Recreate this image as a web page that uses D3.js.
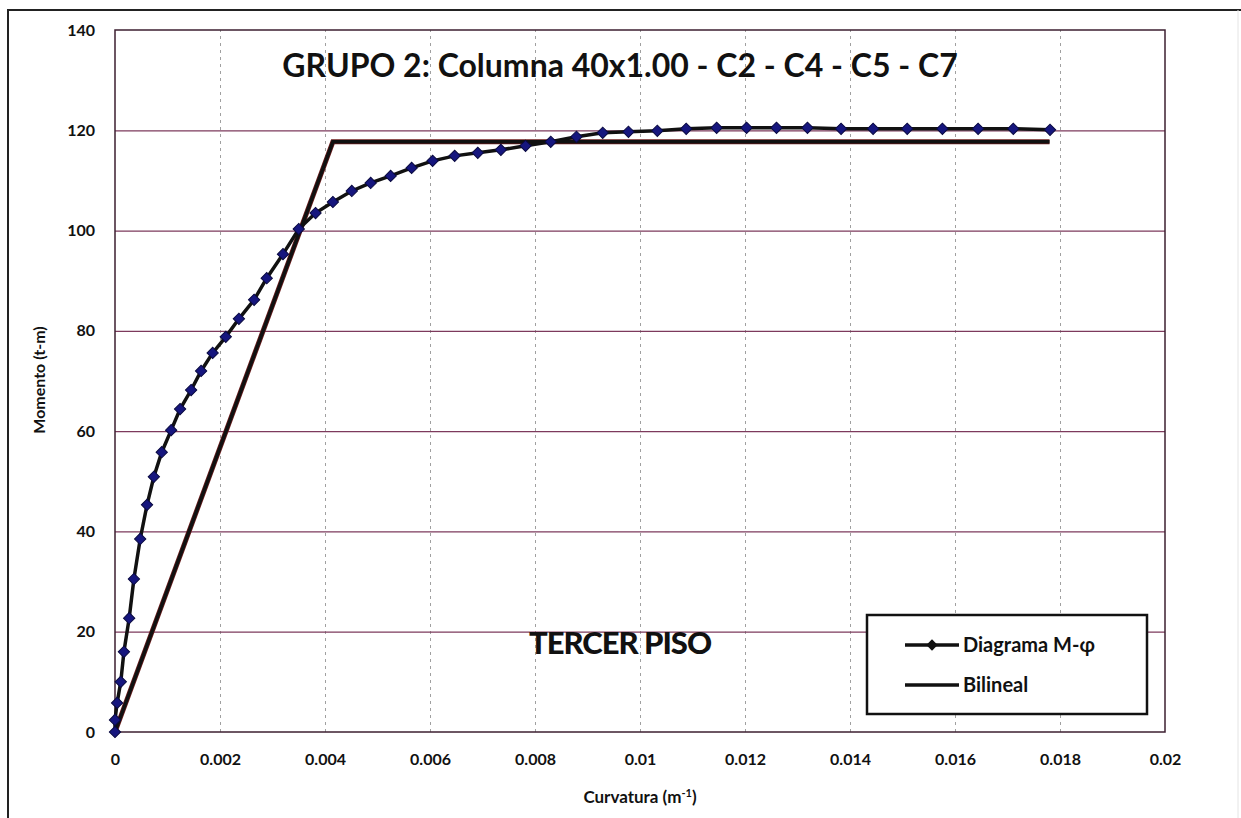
<!DOCTYPE html>
<html lang="es">
<head>
<meta charset="UTF-8">
<title>Diagrama M-φ</title>
<script src="https://d3js.org/d3.v7.min.js"></script>
<style>
  body { margin: 0; background: #fff; }
  text { font-family: Lato, "Open Sans", sans-serif; font-weight: bold; fill: #111; }
  .grid-h line { stroke: #7d3a5c; stroke-width: 1.2px; }
  .grid-v line { stroke: #a0a0a0; stroke-width: 1px; stroke-dasharray: 3,4; }
  .grid-h path, .grid-v path { display: none; }
  .axis path, .axis line { display: none; }
  .axis text { font-size: 16px; }
</style>
</head>
<body>
<svg id="chart"></svg>
<script>
// Curvatura (1/m) y Momento (t-m)
var curvatura = [0, 0, 0.00004, 0.00011, 0.00017, 0.00027, 0.00036, 0.00048, 0.00061, 0.00074,
  0.00089, 0.00107, 0.00124, 0.00145, 0.00164, 0.00186, 0.00211, 0.00236, 0.00265, 0.00289,
  0.00320, 0.00350, 0.00382, 0.00415, 0.00451, 0.00487, 0.00525, 0.00565, 0.00605, 0.00647,
  0.00691, 0.00735, 0.00782, 0.00830, 0.00879, 0.00929, 0.00978, 0.01033, 0.01088, 0.01146,
  0.01203, 0.01260, 0.01319, 0.01383, 0.01444, 0.01509, 0.01576, 0.01644, 0.01711, 0.01781];
var momento = [0, 2.4, 5.8, 10.0, 16.0, 22.7, 30.5, 38.5, 45.3, 50.9,
  55.8, 60.2, 64.4, 68.2, 72.0, 75.6, 78.8, 82.4, 86.2, 90.5,
  95.3, 100.3, 103.5, 105.7, 107.9, 109.5, 110.9, 112.5, 113.9, 114.9,
  115.5, 116.1, 116.9, 117.7, 118.7, 119.5, 119.7, 119.9, 120.3, 120.5,
  120.5, 120.5, 120.5, 120.3, 120.3, 120.3, 120.3, 120.3, 120.3, 120.1];
var bilinealX = [0, 0.00415, 0.0178];
var bilinealY = [0, 117.7, 117.7];
var xTicks = [0, 0.002, 0.004, 0.006, 0.008, 0.01, 0.012, 0.014, 0.016, 0.018, 0.02];
var yTicks = [0, 20, 40, 60, 80, 100, 120, 140];
var legendLabels = ["Diagrama M-φ", "Bilineal"];

var W = 1241, H = 818;
var margin = {top: 30, right: 76, bottom: 86, left: 115},
    width = W - margin.left - margin.right,
    height = H - margin.top - margin.bottom;

var svg = d3.select("#chart").attr("width", W).attr("height", H);

// marco exterior
svg.append("line").attr("x1", 7).attr("x2", W).attr("y1", 10).attr("y2", 10)
  .attr("stroke", "#222").attr("stroke-width", 2);
svg.append("line").attr("x1", 8).attr("x2", 8).attr("y1", 10).attr("y2", H)
  .attr("stroke", "#222").attr("stroke-width", 2);
svg.append("line").attr("x1", 1238).attr("x2", 1238).attr("y1", 10).attr("y2", H)
  .attr("stroke", "#e4e4e4").attr("stroke-width", 1);

var g = svg.append("g").attr("transform", "translate(" + margin.left + "," + margin.top + ")");

var x = d3.scaleLinear().domain([0, 0.02]).range([0, width]);
var y = d3.scaleLinear().domain([0, 140]).range([height, 0]);

// rejilla
g.append("g").attr("class", "grid-v")
  .attr("transform", "translate(0," + height + ")")
  .call(d3.axisBottom(x).tickValues(xTicks.slice(1, -1)).tickSize(-height).tickFormat(""));
g.append("g").attr("class", "grid-h")
  .call(d3.axisLeft(y).tickValues(yTicks.slice(1, -1)).tickSize(-width).tickFormat(""));

g.append("rect").attr("width", width).attr("height", height)
  .attr("fill", "none").attr("stroke", "#3c1f30").attr("stroke-width", 1.5);

// ejes
var fmt = function(d) { return d === 0 ? "0" : String(+d.toFixed(3)); };
g.append("g").attr("class", "axis")
  .attr("transform", "translate(0," + height + ")")
  .call(d3.axisBottom(x).tickValues(xTicks).tickFormat(fmt).tickSize(0).tickPadding(22));
g.append("g").attr("class", "axis")
  .call(d3.axisLeft(y).tickValues(yTicks).tickSize(0).tickPadding(20));

// titulos de ejes
svg.append("text").attr("transform", "translate(45,380) rotate(-90)")
  .attr("text-anchor", "middle").style("font-size", "16px").text("Momento (t-m)");
var xt = svg.append("text").attr("x", 640).attr("y", 803)
  .attr("text-anchor", "middle").style("font-size", "17px");
xt.append("tspan").text("Curvatura (m");
xt.append("tspan").attr("dy", -6).style("font-size", "11px").text("-1");
xt.append("tspan").attr("dy", 6).text(")");

// series
var pts = curvatura.map(function(c, i) { return [c, momento[i]]; });
var bil = bilinealX.map(function(c, i) { return [c, bilinealY[i]]; });
var line = d3.line().x(function(d) { return x(d[0]); }).y(function(d) { return y(d[1]); });

g.append("path").datum(bil).attr("d", line)
  .attr("fill", "none").attr("stroke", "#6b1d1d").attr("stroke-width", 5);
g.append("path").datum(bil).attr("d", line)
  .attr("fill", "none").attr("stroke", "#111").attr("stroke-width", 3.5);

g.append("path").datum(pts).attr("d", line)
  .attr("fill", "none").attr("stroke", "#111").attr("stroke-width", 3.5);

// rombos: cuadrado girado 45 grados
var diamond = d3.symbol().type(d3.symbolSquare).size(64);
g.selectAll(".mk").data(pts).enter().append("path")
  .attr("class", "mk")
  .attr("transform", function(d) { return "translate(" + x(d[0]) + "," + y(d[1]) + ") rotate(45)"; })
  .attr("d", diamond)
  .attr("fill", "#16167e").attr("stroke", "#0a0a40").attr("stroke-width", 1);

// textos
svg.append("text").attr("x", 620).attr("y", 77).attr("text-anchor", "middle")
  .style("font-size", "32px").text("GRUPO 2: Columna 40x1.00 - C2 - C4 - C5 - C7");
svg.append("text").attr("x", 620).attr("y", 654).attr("text-anchor", "middle")
  .style("font-size", "31px").style("font-weight", 900).style("letter-spacing", "-1px")
  .text("TERCER PISO");

// leyenda
var lg = svg.append("g").attr("transform", "translate(867,615)");
lg.append("rect").attr("width", 280).attr("height", 99)
  .attr("fill", "#fff").attr("stroke", "#111").attr("stroke-width", 2.5);
legendLabels.forEach(function(lbl, i) {
  var yy = 30 + i * 40;
  lg.append("line").attr("x1", 38).attr("x2", 92).attr("y1", yy).attr("y2", yy)
    .attr("stroke", "#111").attr("stroke-width", 3.5);
  if (i === 0) {
    lg.append("path").attr("transform", "translate(65," + yy + ") rotate(45)")
      .attr("d", d3.symbol().type(d3.symbolSquare).size(64)).attr("fill", "#111");
  }
  lg.append("text").attr("x", 96).attr("y", yy + 7).style("font-size", "20px").text(lbl);
});
</script>
</body>
</html>
